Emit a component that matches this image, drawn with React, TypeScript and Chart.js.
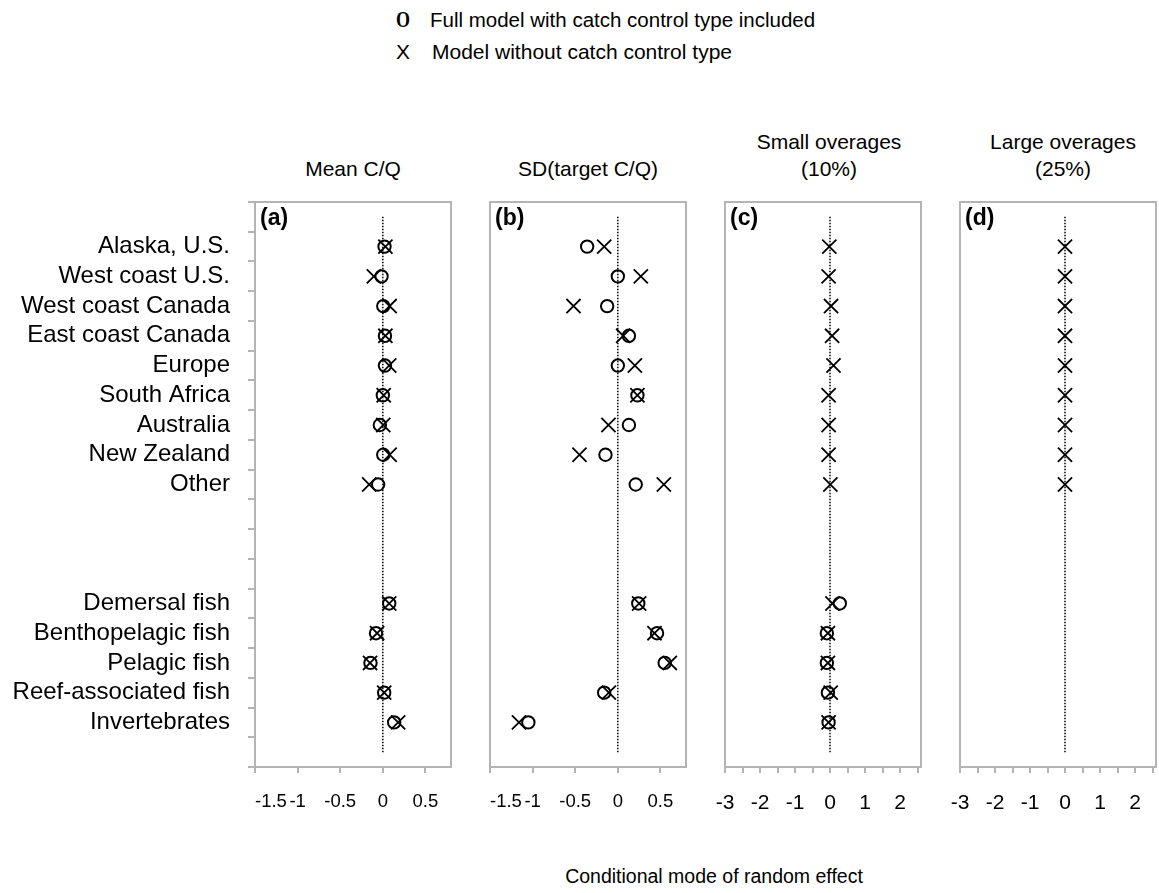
import React, { useEffect, useRef } from 'react';
import { Chart, registerables } from 'chart.js';

Chart.register(...registerables);

// Category slots, top to bottom (blank slots keep the spacing between groups)
const CATEGORIES = [
  '',
  'Alaska, U.S.',
  'West coast U.S.',
  'West coast Canada',
  'East coast Canada',
  'Europe',
  'South Africa',
  'Australia',
  'New Zealand',
  'Other',
  ' ',
  '  ',
  '   ',
  'Demersal fish',
  'Benthopelagic fish',
  'Pelagic fish',
  'Reef-associated fish',
  'Invertebrates',
  '    ',
];

// (a) Mean C/Q
const MEAN_FULL = [null, 0.02, -0.015, 0.005, 0.025, 0.025, 0.0, -0.035, 0.005, -0.055, null, null, null, 0.075, -0.08, -0.145, 0.016, 0.133, null];
const MEAN_NO_TYPE = [null, 0.03, -0.105, 0.08, 0.03, 0.075, 0.01, 0.005, 0.08, -0.16, null, null, null, 0.075, -0.067, -0.15, 0.016, 0.18, null];

// (b) SD(target C/Q)
const SD_FULL = [null, -0.36, 0.0, -0.125, 0.13, 0.0, 0.23, 0.13, -0.145, 0.21, null, null, null, 0.24, 0.46, 0.55, -0.16, -1.05, null];
const SD_NO_TYPE = [null, -0.16, 0.27, -0.52, 0.063, 0.2, 0.23, -0.11, -0.45, 0.54, null, null, null, 0.25, 0.43, 0.61, -0.105, -1.16, null];

// (c) Small overages (10%)
const SMALL_FULL = [null, null, null, null, null, null, null, null, null, null, null, null, null, 0.28, -0.09, -0.09, -0.06, -0.04, null];
const SMALL_NO_TYPE = [null, -0.02, -0.04, 0.03, 0.06, 0.1, -0.04, -0.04, -0.04, 0.01, null, null, null, 0.07, -0.06, -0.06, 0.02, -0.04, null];

// (d) Large overages (25%)
const LARGE_FULL = [null, null, null, null, null, null, null, null, null, null, null, null, null, null, null, null, null, null, null];
const LARGE_NO_TYPE = [null, 0, 0, 0, 0, 0, 0, 0, 0, 0, null, null, null, null, null, null, null, null, null];

// Zero reference line
const ZERO_LINE = [0, 0, 0, 0, 0, 0, 0, 0, 0, 0, 0, 0, 0, 0, 0, 0, 0, 0, 0];

// Axis ticks
const TICKS_NARROW = [-1.5, -1, -0.5, 0, 0.5];
const TICKS_WIDE = [-3, -2.5, -2, -1.5, -1, -0.5, 0, 0.5, 1, 1.5, 2, 2.5];
const LABELS_WIDE = [-3, -2, -1, 0, 1, 2];

const SANS = '"Liberation Sans", Arial, Helvetica, sans-serif';
const SERIF = '"Liberation Serif", "Times New Roman", serif';
const GRAY = '#b4b4b4';

const CANVAS_TOP = 190;
const CANVAS_HEIGHT = 640;
const PAD_TOP = 12;
const X_AXIS_HEIGHT = 63;

type Val = number | null;

interface PanelSpec {
  letter: string;
  title: string[];
  circles: Val[];
  crosses: Val[];
  min: number;
  max: number;
  ticks: number[];
  labeled: number[];
  inner: boolean;
  tickFont: number;
  showCategories: boolean;
  canvasLeft: number;
  plotLeft: number;
  plotRight: number;
  titleCenter: number;
}

const PANELS: PanelSpec[] = [
  {
    letter: '(a)', title: ['Mean C/Q'], circles: MEAN_FULL, crosses: MEAN_NO_TYPE,
    min: -1.5, max: 0.8, ticks: TICKS_NARROW, labeled: TICKS_NARROW, inner: true, tickFont: 18.5, showCategories: true,
    canvasLeft: 0, plotLeft: 255, plotRight: 451, titleCenter: 353,
  },
  {
    letter: '(b)', title: ['SD(target C/Q)'], circles: SD_FULL, crosses: SD_NO_TYPE,
    min: -1.5, max: 0.8, ticks: TICKS_NARROW, labeled: TICKS_NARROW, inner: true, tickFont: 18.5, showCategories: false,
    canvasLeft: 470, plotLeft: 490, plotRight: 686, titleCenter: 588,
  },
  {
    letter: '(c)', title: ['Small overages', '(10%)'], circles: SMALL_FULL, crosses: SMALL_NO_TYPE,
    min: -3, max: 2.6, ticks: TICKS_WIDE, labeled: LABELS_WIDE, inner: false, tickFont: 21, showCategories: false,
    canvasLeft: 705, plotLeft: 725, plotRight: 921, titleCenter: 829,
  },
  {
    letter: '(d)', title: ['Large overages', '(25%)'], circles: LARGE_FULL, crosses: LARGE_NO_TYPE,
    min: -3, max: 2.6, ticks: TICKS_WIDE, labeled: LABELS_WIDE, inner: false, tickFont: 21, showCategories: false,
    canvasLeft: 940, plotLeft: 960, plotRight: 1156, titleCenter: 1063,
  },
];

// Grey box around the plotting area plus the panel letter in its corner
const framePlugin = {
  id: 'panelFrame',
  beforeDatasetsDraw(chart: any, _args: any, opts: any) {
    const { ctx, chartArea } = chart;
    const { left, top, right, bottom } = chartArea;
    ctx.save();
    ctx.strokeStyle = GRAY;
    ctx.lineWidth = 2;
    ctx.strokeRect(left, top, right - left, bottom - top);
    ctx.fillStyle = '#000';
    ctx.font = `bold 23px ${SANS}`;
    ctx.textBaseline = 'top';
    ctx.textAlign = 'left';
    ctx.fillText(opts.letter || '', left + 5, top + 5);
    ctx.restore();
  },
};

// Keep tick labels from pulling the plotting area inwards; the fixed axis sizes reserve the room
const dropLabelPadding = (scale: any) => {
  scale.paddingLeft = 0;
  scale.paddingRight = 0;
  scale.paddingTop = 0;
  scale.paddingBottom = 0;
};

function Panel({ spec }: { spec: PanelSpec }) {
  const ref = useRef<HTMLCanvasElement | null>(null);
  const width = spec.plotRight + 2 - spec.canvasLeft;

  useEffect(() => {
    if (!ref.current) return;
    const tickValues = spec.inner ? [...spec.ticks, spec.max] : spec.ticks;
    const chart = new Chart(ref.current, {
      type: 'line',
      data: {
        labels: CATEGORIES,
        datasets: [
          {
            label: 'Model without catch control type',
            data: spec.crosses,
            showLine: false,
            pointStyle: 'crossRot',
            pointRadius: 10,
            pointBorderWidth: 1.8,
            pointBorderColor: '#000',
            pointBackgroundColor: '#000',
          },
          {
            label: 'Full model with catch control type included',
            data: spec.circles,
            showLine: false,
            pointStyle: 'circle',
            pointRadius: 6.2,
            pointBorderWidth: 2,
            pointBorderColor: '#000',
            pointBackgroundColor: 'rgba(0,0,0,0)',
          },
          {
            label: 'zero',
            data: ZERO_LINE,
            borderColor: '#000',
            borderWidth: 1.5,
            borderDash: [1.5, 1.5],
            pointRadius: 0,
            fill: false,
          },
        ],
      },
      options: {
        indexAxis: 'y',
        animation: false,
        responsive: false,
        maintainAspectRatio: false,
        devicePixelRatio: 1,
        events: [],
        layout: {
          autoPadding: false,
          padding: { left: 0, right: 2, top: PAD_TOP, bottom: 0 },
        },
        plugins: {
          legend: { display: false },
          tooltip: { enabled: false },
          panelFrame: { letter: spec.letter },
        } as any,
        scales: {
          x: {
            type: 'linear',
            position: 'bottom',
            min: spec.min,
            max: spec.max,
            afterBuildTicks: (scale: any) => {
              scale.ticks = tickValues.map((v) => ({ value: v }));
            },
            afterFit: (scale: any) => {
              scale.height = X_AXIS_HEIGHT;
              dropLabelPadding(scale);
            },
            border: { display: false },
            grid: {
              drawOnChartArea: false,
              drawTicks: true,
              tickLength: 6,
              lineWidth: 2,
              color: (ctx: any) => (ctx.tick && ctx.tick.value === spec.max && spec.inner ? 'rgba(0,0,0,0)' : GRAY),
            },
            ticks: {
              autoSkip: false,
              maxRotation: 0,
              minRotation: 0,
              padding: 18,
              align: spec.inner ? 'inner' : 'center',
              color: '#000',
              font: { family: SANS, size: spec.tickFont },
              callback: (value: any) => {
                const v = Number(value);
                return spec.labeled.includes(v) ? String(v) : '';
              },
            },
          },
          y: {
            type: 'category',
            display: true,
            offset: true,
            afterFit: (scale: any) => {
              scale.width = spec.plotLeft - spec.canvasLeft;
              dropLabelPadding(scale);
            },
            border: { display: false },
            grid: {
              display: spec.showCategories,
              offset: true,
              drawOnChartArea: false,
              drawTicks: true,
              tickLength: 7,
              lineWidth: 2,
              color: GRAY,
            },
            ticks: {
              display: spec.showCategories,
              autoSkip: false,
              padding: 18,
              color: '#000',
              font: { family: SANS, size: 24 },
            },
          },
        },
      } as any,
      plugins: [framePlugin],
    });
    return () => chart.destroy();
  }, [spec]);

  return (
    <canvas
      ref={ref}
      width={width}
      height={CANVAS_HEIGHT}
      style={{ position: 'absolute', left: spec.canvasLeft, top: CANVAS_TOP, width, height: CANVAS_HEIGHT }}
    />
  );
}

export default function App() {
  const text: React.CSSProperties = { position: 'absolute', fontFamily: SANS, color: '#000', whiteSpace: 'nowrap' };
  return (
    <div style={{ position: 'absolute', left: 0, top: 0, width: 1159, height: 893, background: '#fff', overflow: 'hidden' }}>
      {/* legend */}
      <div
        style={{
          ...text, left: 396, top: 5, fontSize: 24, lineHeight: '28px', fontFamily: SERIF, fontWeight: 'bold',
          transform: 'scaleX(0.75)', transformOrigin: 'left center',
        }}
      >
        O
      </div>
      <div style={{ ...text, left: 430, top: 6, fontSize: 20.5, lineHeight: '28px' }}>Full model with catch control type included</div>
      <div style={{ ...text, left: 396, top: 38, fontSize: 21, lineHeight: '28px' }}>X</div>
      <div style={{ ...text, left: 432, top: 38, fontSize: 21, lineHeight: '28px' }}>Model without catch control type</div>

      {/* panel titles */}
      {PANELS.map((p) => (
        <div
          key={p.letter + '-title'}
          style={{ ...text, left: p.titleCenter - 120, width: 240, bottom: 893 - 182, textAlign: 'center', fontSize: 21, lineHeight: '27px' }}
        >
          {p.title.map((line) => (
            <div key={line}>{line}</div>
          ))}
        </div>
      ))}

      {PANELS.map((p) => (
        <Panel key={p.letter} spec={p} />
      ))}

      {/* shared x-axis title */}
      <div style={{ ...text, left: 714 - 250, width: 500, top: 862, textAlign: 'center', fontSize: 19.5, lineHeight: '28px' }}>
        Conditional mode of random effect
      </div>
    </div>
  );
}
